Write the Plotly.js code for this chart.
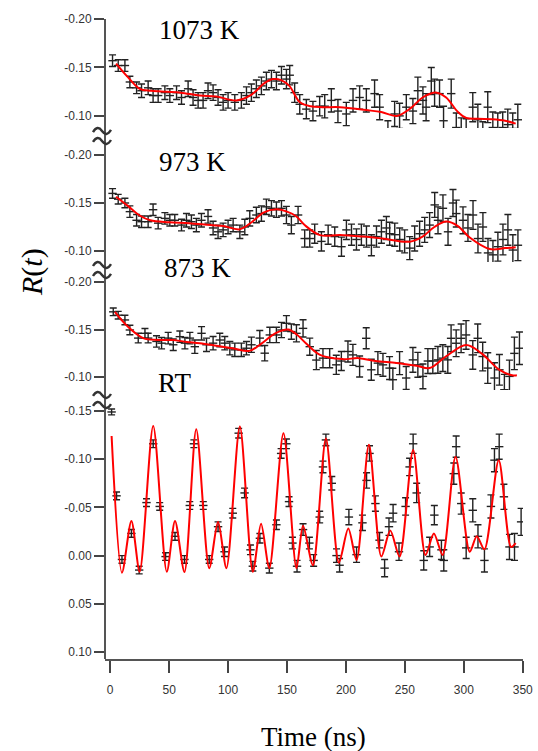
<!DOCTYPE html>
<html><head><meta charset="utf-8">
<script src="https://cdn.plot.ly/plotly-3.0.1.min.js"></script>
<style>html,body{margin:0;padding:0;background:#fff}#chart{width:538px;height:751px}</style>
</head><body><div id="chart"></div>
<script>
// ---------- data ----------
// 1073 K
const x1073 = [2, 6.8, 12.5, 16.7, 22.4, 26.6, 32.2, 36.4, 40.7, 46.4, 50.6, 56.3, 60.5, 66.1, 70.3, 74.6, 78.8, 83, 87.3, 91.5, 95.8, 100, 105.7, 111.3, 115.6, 119.8, 124, 128.3, 132.5, 136.8, 141, 145.3, 149.5, 152.3, 156.5, 160.8, 166.4, 172, 177.7, 182, 187.6, 193.2, 200.3, 206, 211.6, 217.3, 224.3, 228.6, 235.6, 241.3, 245.5, 251.2, 256.8, 261, 265.3, 268, 272.4, 275.2, 279.4, 282.8, 289.3, 293.6, 297.8, 302, 307.6, 311.9, 316.1, 320.3, 324.6, 328.8, 333, 337.3, 341.5, 345.8];
const y1073 = [-0.157, -0.152, -0.152, -0.135, -0.129, -0.126, -0.129, -0.121, -0.121, -0.124, -0.121, -0.124, -0.119, -0.128, -0.119, -0.116, -0.116, -0.126, -0.124, -0.119, -0.114, -0.116, -0.114, -0.116, -0.121, -0.124, -0.128, -0.131, -0.136, -0.138, -0.136, -0.142, -0.138, -0.142, -0.124, -0.112, -0.107, -0.105, -0.110, -0.110, -0.116, -0.105, -0.102, -0.116, -0.119, -0.116, -0.123, -0.109, -0.082, -0.102, -0.100, -0.109, -0.105, -0.126, -0.116, -0.109, -0.136, -0.124, -0.123, -0.095, -0.123, -0.088, -0.083, -0.082, -0.109, -0.096, -0.078, -0.109, -0.088, -0.087, -0.088, -0.091, -0.087, -0.096];
const e1073 = [0.006, 0.006, 0.006, 0.006, 0.006, 0.007, 0.007, 0.007, 0.007, 0.007, 0.007, 0.007, 0.007, 0.008, 0.008, 0.008, 0.008, 0.008, 0.008, 0.008, 0.008, 0.008, 0.008, 0.008, 0.009, 0.009, 0.009, 0.009, 0.009, 0.009, 0.009, 0.009, 0.010, 0.010, 0.010, 0.010, 0.010, 0.010, 0.010, 0.012, 0.012, 0.012, 0.012, 0.012, 0.012, 0.012, 0.014, 0.013, 0.013, 0.013, 0.013, 0.013, 0.013, 0.014, 0.014, 0.014, 0.014, 0.014, 0.014, 0.015, 0.015, 0.015, 0.015, 0.015, 0.015, 0.016, 0.016, 0.016, 0.016, 0.016, 0.016, 0.016, 0.016, 0.016];
const fitX1073 = [5, 15, 25, 35, 48, 60, 76, 90, 107, 120, 130, 138, 145, 152, 161, 170, 180, 195, 217, 230, 243, 255, 265, 277, 285, 295, 302, 312, 324, 335, 344];
const fitY1073 = [-0.154, -0.140, -0.128, -0.126, -0.125, -0.124, -0.121, -0.120, -0.116, -0.122, -0.133, -0.138, -0.137, -0.131, -0.114, -0.110, -0.109, -0.109, -0.106, -0.104, -0.100, -0.108, -0.119, -0.124, -0.119, -0.104, -0.098, -0.097, -0.0965, -0.095, -0.092];

// 973 K
const x973 = [2, 6.8, 12.5, 16.7, 22.4, 26.6, 32.2, 36.4, 40.7, 46.4, 50.6, 54.8, 60.5, 64.7, 68.9, 73.1, 77.4, 83, 87.3, 91.5, 95.8, 100, 104.3, 110, 114.2, 118.4, 124, 128.3, 132.5, 136.8, 141, 145.3, 149.5, 153.7, 159.4, 165, 169.3, 173.5, 179.2, 184.9, 190.5, 196.2, 200.4, 204.7, 208.9, 213.1, 217.4, 221.6, 225.9, 230.1, 234.3, 237.1, 241.4, 245.6, 249.8, 254.1, 258.3, 262.5, 266.8, 271, 275.3, 278.1, 282.3, 286.6, 290.8, 293.6, 299.3, 303.5, 307.8, 312, 316.2, 320.5, 324.7, 328.9, 333.2, 337.4, 341.6, 345.9];
const y973 = [-0.160, -0.154, -0.150, -0.141, -0.132, -0.1305, -0.1305, -0.143, -0.129, -0.134, -0.132, -0.132, -0.127, -0.132, -0.1305, -0.127, -0.132, -0.136, -0.124, -0.120, -0.122, -0.125, -0.127, -0.120, -0.125, -0.134, -0.1375, -0.139, -0.146, -0.1445, -0.143, -0.1445, -0.1375, -0.127, -0.1375, -0.113, -0.113, -0.118, -0.110, -0.117, -0.115, -0.1045, -0.122, -0.117, -0.112, -0.117, -0.115, -0.106, -0.115, -0.120, -0.124, -0.118, -0.117, -0.112, -0.110, -0.103, -0.113, -0.118, -0.122, -0.127, -0.148, -0.132, -0.1445, -0.120, -0.150, -0.139, -0.132, -0.124, -0.1375, -0.113, -0.125, -0.098, -0.096, -0.1045, -0.112, -0.122, -0.101, -0.106];
const e973 = [0.005, 0.005, 0.005, 0.006, 0.006, 0.006, 0.006, 0.006, 0.006, 0.006, 0.006, 0.006, 0.006, 0.007, 0.007, 0.007, 0.007, 0.007, 0.007, 0.007, 0.007, 0.007, 0.007, 0.007, 0.008, 0.008, 0.008, 0.008, 0.008, 0.008, 0.008, 0.008, 0.009, 0.009, 0.009, 0.009, 0.009, 0.010, 0.010, 0.010, 0.010, 0.010, 0.010, 0.011, 0.011, 0.011, 0.011, 0.011, 0.011, 0.012, 0.012, 0.012, 0.012, 0.012, 0.012, 0.012, 0.013, 0.013, 0.013, 0.013, 0.013, 0.014, 0.014, 0.014, 0.014, 0.014, 0.014, 0.014, 0.015, 0.015, 0.015, 0.015, 0.015, 0.015, 0.016, 0.016, 0.016, 0.016];
const fitX973 = [5, 15, 25, 34, 50, 67, 85, 96, 110, 120, 130, 141, 150, 158, 165, 178, 195, 215, 231, 254, 265, 275, 285, 295, 305, 322, 335, 344];
const fitY973 = [-0.1566, -0.147, -0.137, -0.132, -0.130, -0.129, -0.127, -0.126, -0.1226, -0.130, -0.140, -0.1434, -0.141, -0.136, -0.127, -0.1165, -0.1167, -0.115, -0.113, -0.1097, -0.115, -0.125, -0.1306, -0.126, -0.114, -0.102, -0.103, -0.104];

// 873 K
const x873 = [2.6, 6.8, 12.5, 16.7, 23.8, 29.5, 32.2, 39.3, 43.6, 49.2, 53.5, 59.1, 63.4, 67.6, 71.8, 77.5, 81.7, 87.3, 93, 97.2, 101.5, 105.7, 111.3, 115.6, 119.8, 126.9, 131.1, 135.4, 141, 145.3, 149.5, 153.7, 158, 163.6, 169.3, 174.9, 180.5, 186.2, 191.8, 196.1, 201.7, 205.9, 211.6, 217.2, 221.5, 227.1, 231.4, 237, 239.8, 245.5, 251.1, 256.8, 261, 265.3, 269.5, 273.7, 278, 282.2, 286.4, 289.2, 293.5, 297.7, 301.9, 307.6, 311.8, 316, 320.3, 326, 330.2, 334.4, 338.7, 342.9, 347.2];
const y873 = [-0.1685, -0.165, -0.160, -0.1495, -0.141, -0.146, -0.141, -0.1375, -0.1357, -0.141, -0.134, -0.1425, -0.1357, -0.141, -0.132, -0.146, -0.134, -0.1357, -0.139, -0.1357, -0.1304, -0.1287, -0.1287, -0.1304, -0.134, -0.141, -0.1252, -0.1443, -0.1443, -0.1495, -0.1565, -0.1478, -0.146, -0.1512, -0.132, -0.118, -0.120, -0.120, -0.113, -0.117, -0.127, -0.1234, -0.1113, -0.1408, -0.1078, -0.1148, -0.113, -0.1096, -0.0974, -0.1148, -0.0992, -0.1182, -0.113, -0.1009, -0.117, -0.117, -0.1182, -0.120, -0.1182, -0.1408, -0.1356, -0.1408, -0.1443, -0.1234, -0.1408, -0.1217, -0.1096, -0.0992, -0.1078, -0.087, -0.1009, -0.125, -0.1304];
const e873 = [0.004, 0.004, 0.005, 0.005, 0.005, 0.005, 0.005, 0.006, 0.006, 0.006, 0.006, 0.006, 0.006, 0.006, 0.007, 0.007, 0.007, 0.007, 0.007, 0.007, 0.007, 0.007, 0.007, 0.007, 0.008, 0.008, 0.008, 0.008, 0.008, 0.008, 0.008, 0.008, 0.009, 0.009, 0.009, 0.010, 0.010, 0.010, 0.010, 0.010, 0.011, 0.011, 0.011, 0.011, 0.011, 0.012, 0.012, 0.012, 0.012, 0.012, 0.012, 0.013, 0.013, 0.013, 0.013, 0.013, 0.014, 0.014, 0.014, 0.014, 0.014, 0.015, 0.015, 0.015, 0.015, 0.015, 0.016, 0.016, 0.016, 0.016, 0.017, 0.017, 0.017];
const fitX873 = [4, 15, 28, 40, 53, 65, 76, 90, 105, 118, 128, 140, 151, 158, 166, 178, 197, 211, 225, 243, 260, 271, 285, 302, 315, 330, 341, 345];
const fitY873 = [-0.1685, -0.153, -0.141, -0.139, -0.139, -0.137, -0.1356, -0.133, -0.130, -0.1276, -0.135, -0.146, -0.150, -0.145, -0.1356, -0.1234, -0.119, -0.120, -0.117, -0.115, -0.112, -0.1096, -0.122, -0.1339, -0.125, -0.108, -0.102, -0.102];

// RT
const xRT = [1.2, 5.4, 10, 18, 24.6, 30.8, 36.5, 42, 47, 55, 63, 67.5, 71, 79, 84, 91.5, 97, 104, 109, 114, 119, 121, 127, 135, 141, 145, 149.5, 151.7, 154.6, 158.5, 163.6, 169, 172.6, 177.7, 180.5, 183, 188, 192, 194.6, 202.5, 209, 214, 217.5, 220, 225, 228.5, 232.8, 236.5, 240, 245, 250.6, 254, 257, 260, 266, 271, 275, 281, 283, 291.5, 293.5, 297.8, 302, 307.6, 312, 317.5, 323, 326, 330, 334, 338.7, 343, 348.6];
const yRT = [-0.149, -0.062, 0.004, -0.023, 0.015, -0.055, -0.116, -0.051, 0.001, -0.020, 0.004, -0.052, -0.116, -0.052, 0.004, -0.030, -0.004, -0.044, -0.127, -0.065, -0.006, 0.011, -0.018, 0.013, -0.032, -0.106, -0.116, -0.056, -0.013, 0.011, -0.027, -0.013, 0.005, -0.040, -0.092, -0.120, -0.075, 0.0, 0.010, -0.040, -0.001, -0.034, -0.078, -0.106, -0.054, -0.016, 0.013, -0.030, -0.044, -0.004, -0.051, -0.092, -0.116, -0.065, 0.005, -0.009, -0.042, -0.006, 0.005, -0.085, -0.113, -0.054, -0.008, -0.047, -0.020, 0.005, -0.051, -0.099, -0.113, -0.061, -0.009, -0.009, -0.035];
const eRT = [0.003, 0.004, 0.004, 0.004, 0.004, 0.004, 0.004, 0.004, 0.004, 0.004, 0.004, 0.004, 0.004, 0.004, 0.004, 0.005, 0.005, 0.005, 0.005, 0.005, 0.005, 0.005, 0.005, 0.005, 0.005, 0.005, 0.005, 0.005, 0.006, 0.006, 0.006, 0.006, 0.006, 0.006, 0.006, 0.006, 0.007, 0.007, 0.007, 0.008, 0.008, 0.008, 0.008, 0.008, 0.008, 0.008, 0.009, 0.009, 0.009, 0.009, 0.009, 0.009, 0.010, 0.010, 0.010, 0.010, 0.010, 0.010, 0.011, 0.011, 0.011, 0.011, 0.011, 0.012, 0.012, 0.012, 0.012, 0.012, 0.013, 0.013, 0.013, 0.014, 0.014];
const fitXRT = [1.2, 10, 18, 25, 36.5, 48, 55, 63, 73, 84, 91.5, 98.6, 110, 121, 128, 135, 147, 158, 163.6, 172, 183, 194, 202, 209, 219.5, 230, 237.6, 245.5, 257, 267.5, 274.6, 282, 293, 305, 311, 317.5, 329.6, 340, 344];
const fitYRT = [-0.124, 0.0177, -0.036, 0.0167, -0.1344, 0.0167, -0.036, 0.017, -0.131, 0.013, -0.035, 0.013, -0.134, 0.0167, -0.033, 0.013, -0.127, 0.013, -0.031, 0.010, -0.1216, 0.0074, -0.028, 0.0046, -0.115, 0.001, -0.026, 0.001, -0.1095, -0.0006, -0.023, -0.0006, -0.1026, -0.004, -0.020, -0.0065, -0.099, -0.009, -0.013];

const panelLabels = ['1073 K', '973 K', '873 K', 'RT'];
const xTicks = [0, 50, 100, 150, 200, 250, 300, 350];
const yTicksUpper = [-0.20, -0.15, -0.10];
const yTickTextUpper = ['-0.20', '-0.15', '-0.10'];
const yTicksRT = [-0.15, -0.10, -0.05, 0.00, 0.05, 0.10];
const yTickTextRT = ['-0.15', '-0.10', '-0.05', '0.00', '0.05', '0.10'];

// ---------- layout geometry ----------
const ML = 105, MR = 15, MT = 15, MB = 92, H = 751, WID = 538;
const PW = WID - ML - MR, PH = H - MT - MB;
const px2x = p => (p - ML) / PW;
const py2y = p => (H - MB - p) / PH;

const tickFont = {family: '"Liberation Sans Narrow", "Arial Narrow", "Liberation Sans", Arial, sans-serif', size: 12, color: '#333'};
const serif = '"Liberation Serif", "Times New Roman", Times, serif';

function pts(x, y, e, ya) {
  return {x: x, y: y, yaxis: ya, xaxis: 'x', type: 'scatter', mode: 'markers',
    marker: {symbol: 'line-ew', size: 6, color: '#222', line: {width: 1.4, color: '#222'}},
    error_y: {type: 'data', array: e, visible: true, color: '#222', thickness: 1.4, width: 3.5},
    showlegend: false, hoverinfo: 'skip'};
}
function fit(x, y, ya, sm) {
  return {x: x, y: y, yaxis: ya, xaxis: 'x', type: 'scatter', mode: 'lines',
    line: {color: '#ff0000', width: 2, shape: 'spline', smoothing: sm},
    showlegend: false, hoverinfo: 'skip'};
}

const traces = [
  pts(x1073, y1073, e1073, 'y'), fit(fitX1073, fitY1073, 'y', 1),
  pts(x973, y973, e973, 'y2'), fit(fitX973, fitY973, 'y2', 1),
  pts(x873, y873, e873, 'y3'), fit(fitX873, fitY873, 'y3', 1),
  pts(xRT, yRT, eRT, 'y4'), fit(fitXRT, fitYRT, 'y4', 0.8)
];

function yax(dom, rng, tv, tt) {
  return {domain: dom, range: rng, tickvals: tv, ticktext: tt, ticks: 'outside', ticklen: 10,
    tickwidth: 2, tickcolor: '#444', showline: false, showgrid: false, zeroline: false,
    tickfont: tickFont, anchor: 'x', fixedrange: true};
}

// wavy axis-break mark drawn as a path in paper coordinates
function wave(cx, cy) {
  const w = 18, a = 3.2, x0 = cx - w / 2;
  const P = (px, py) => px2x(px).toFixed(5) + ',' + py2y(py).toFixed(5);
  return {type: 'path', xref: 'paper', yref: 'paper', layer: 'above',
    path: 'M' + P(x0, cy + 1) + ' Q' + P(x0 + w / 4, cy - 2 * a) + ' ' + P(x0 + w / 2, cy) +
          ' T' + P(x0 + w, cy - 1),
    line: {color: '#333', width: 2.4}};
}

const layout = {
  width: WID, height: H, margin: {l: ML, r: MR, t: MT, b: MB},
  paper_bgcolor: '#fff', plot_bgcolor: '#fff',
  xaxis: {range: [-4.4, 350.2], tickvals: xTicks, ticktext: xTicks.map(String), ticks: 'outside', ticklen: 12,
    tickwidth: 2, tickcolor: '#444', showline: true, linecolor: '#555', linewidth: 2, showgrid: false,
    zeroline: false, tickfont: tickFont, ticklabelstandoff: 7, anchor: 'y4', fixedrange: true},
  yaxis:  yax([py2y(128), py2y(15)], [-0.0875, -0.20417], yTicksUpper, yTickTextUpper),
  yaxis2: yax([py2y(262), py2y(145)], [-0.08854, -0.21042], yTicksUpper, yTickTextUpper),
  yaxis3: yax([py2y(390), py2y(275)], [-0.08665, -0.20707], yTicksUpper, yTickTextUpper),
  yaxis4: yax([0, py2y(403)], [0.10726, -0.1583], yTicksRT, yTickTextRT),
  shapes: [
    {type: 'line', xref: 'paper', yref: 'paper', x0: 0, x1: 0, y0: 0, y1: py2y(19), line: {color: '#555', width: 2}}
  ],
  annotations: []
};
[[131, 141], [265, 275], [395, 405]].forEach(pair => pair.forEach(py => layout.shapes.push(wave(102, py))));

const labelPos = [[199.5, 30], [192.5, 162], [197.5, 267.5], [174, 382.5]];
panelLabels.forEach((t, i) => {
  layout.annotations.push({text: t, xref: 'paper', yref: 'paper', x: px2x(labelPos[i][0]), y: py2y(labelPos[i][1]),
    xanchor: 'center', yanchor: 'middle', showarrow: false, font: {family: serif, size: 27, color: '#000'}});
});
layout.annotations.push({text: 'Time (ns)', xref: 'paper', yref: 'paper', x: px2x(313), y: py2y(737),
  xanchor: 'center', yanchor: 'middle', showarrow: false, font: {family: serif, size: 27, color: '#000'}});
layout.annotations.push({text: '<i>R</i>(<i>t</i>)', xref: 'paper', yref: 'paper', x: px2x(32), y: py2y(272),
  xanchor: 'center', yanchor: 'middle', textangle: -90, showarrow: false, font: {family: serif, size: 30, color: '#000'}});

Plotly.newPlot('chart', traces, layout, {staticPlot: true, displayModeBar: false});
</script></body></html>
